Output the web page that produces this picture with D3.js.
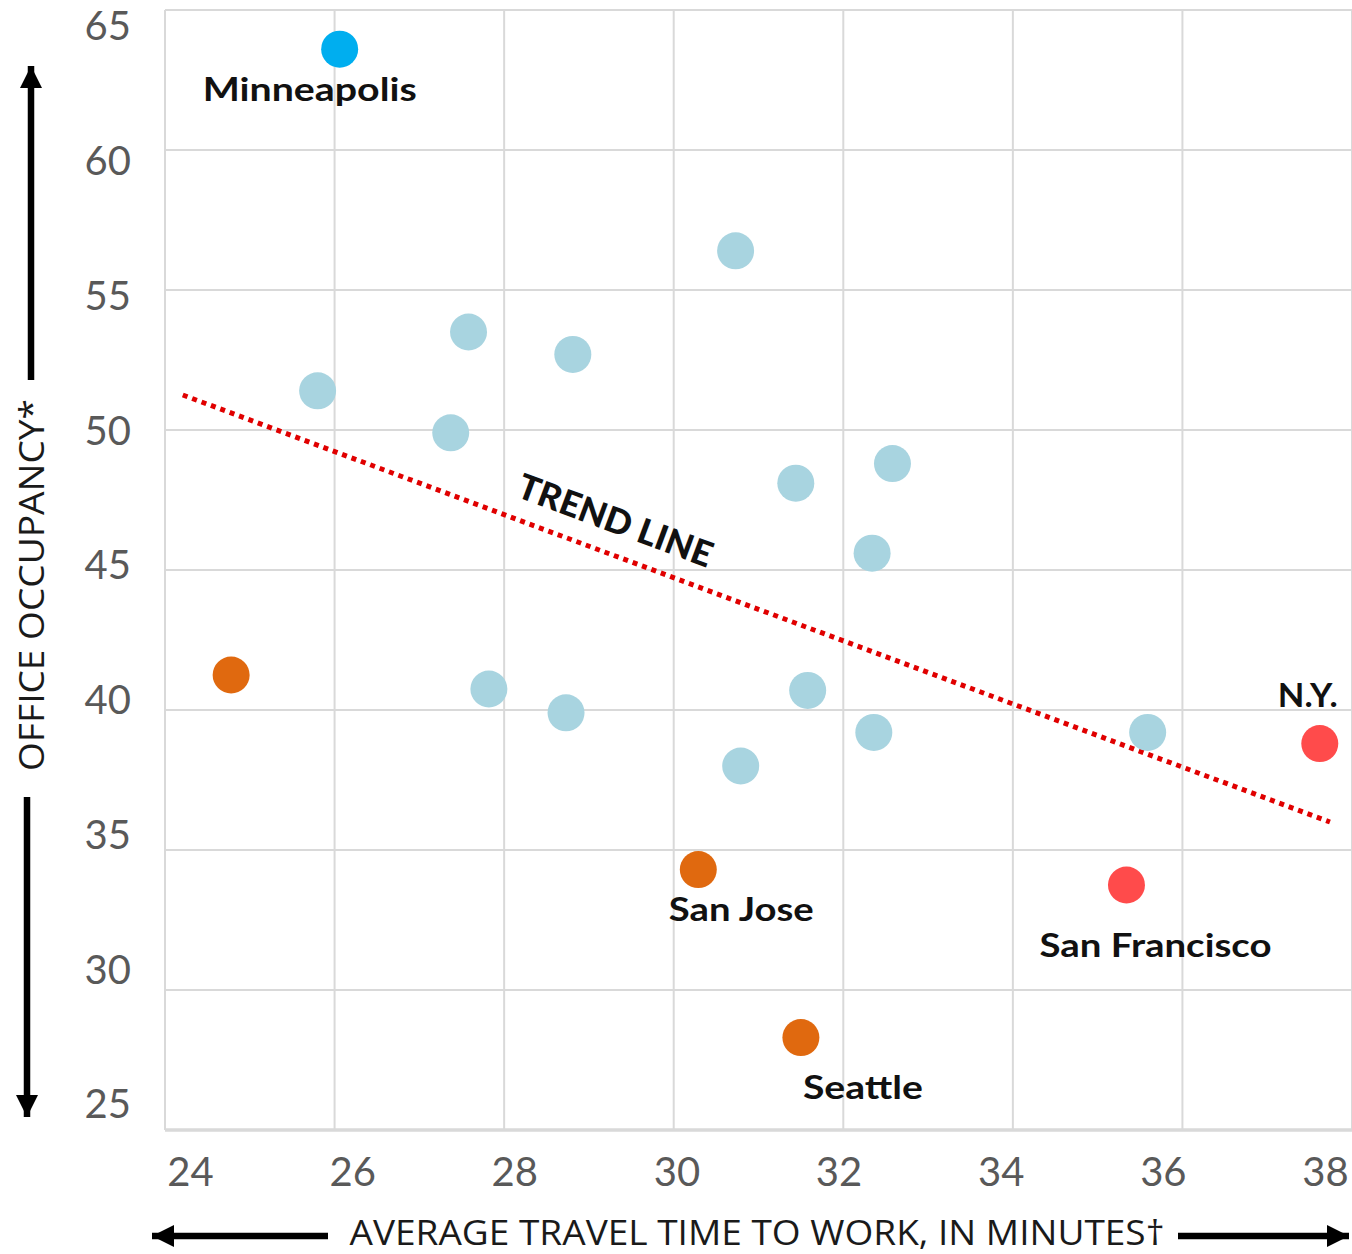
<!DOCTYPE html>
<html><head><meta charset="utf-8">
<script src="https://cdn.jsdelivr.net/npm/d3@7"></script>
<style>body{margin:0;background:#fff}svg{display:block}</style>
</head><body>
<svg id="c" width="1352" height="1254"></svg>
<script>
// ---- data ----
const cities = ["Minneapolis","","","","","","","","","","","","","","","","San Jose","Seattle","N.Y.","San Francisco"];
const travel = [26.06,25.80,27.58,27.37,28.81,30.73,31.44,32.58,32.34,27.82,28.73,31.58,32.36,30.79,35.59,24.78,30.29,31.50,37.62,35.34];
const occupancy = [63.6,51.4,53.5,49.9,52.7,56.4,48.1,48.8,45.6,40.75,39.9,40.7,39.2,38.0,39.2,41.25,34.3,28.3,38.8,33.75];
const group = ["hi","mid","mid","mid","mid","mid","mid","mid","mid","mid","mid","mid","mid","mid","mid","west","west","west","ne","ne"];
const xTicks = [24,26,28,30,32,34,36,38];
const yTicks = [25,30,35,40,45,50,55,60,65];
const trendX = [24.21,37.74];
const trendY = [51.25,36.0];

const colors = {hi:"#00aeef", mid:"#a8d4e0", west:"#e0690f", ne:"#ff4b4b"};

const svg = d3.select("#c");
const L=165,R=1352,T=10,B=1130;
const x = d3.scaleLinear().domain([24,38]).range([L,R]);
const y = d3.scaleLinear().domain([25,65]).range([B,T]);
// label scales (tick labels sit slightly off the gridlines in the original)
const xl = d3.scaleLinear().domain([24,38]).range([190,1325]);
const yl = d3.scaleLinear().domain([25,65]).range([1105,27]);

// gridlines
const g = svg.append("g");
g.selectAll(".vg").data(xTicks).join("line")
  .attr("x1",d=>x(d)).attr("x2",d=>x(d)).attr("y1",T).attr("y2",B)
  .attr("stroke","#d9d9d9").attr("stroke-width",2);
g.selectAll(".hg").data(yTicks).join("line")
  .attr("x1",L).attr("x2",R).attr("y1",d=>y(d)).attr("y2",d=>y(d))
  .attr("stroke","#d9d9d9").attr("stroke-width",d=>d===25?3.5:2);

// tick labels via axes
const xa = svg.append("g").attr("transform","translate(0,1172)")
  .call(d3.axisBottom(xl).tickValues(xTicks).tickSize(0).tickPadding(0));
xa.select(".domain").remove();
xa.selectAll("text").attr("dy","0.35em").attr("font-family","Lato, 'Open Sans', sans-serif")
  .attr("font-size",40).attr("fill","#595959");
const ya = svg.append("g").attr("transform","translate(131,0)")
  .call(d3.axisLeft(yl).tickValues(yTicks).tickSize(0).tickPadding(0));
ya.select(".domain").remove();
ya.selectAll("text").attr("font-family","Lato, 'Open Sans', sans-serif")
  .attr("font-size",40).attr("fill","#595959");

// trend line
svg.append("line")
  .attr("x1",x(trendX[0])).attr("y1",y(trendY[0]))
  .attr("x2",x(trendX[1])).attr("y2",y(trendY[1]))
  .attr("stroke","#e00000").attr("stroke-width",5).attr("stroke-dasharray","5,5");
const ang = Math.atan2(y(trendY[1])-y(trendY[0]), x(trendX[1])-x(trendX[0]))*180/Math.PI;
svg.append("text").attr("transform",`translate(611,532) rotate(${ang})`)
  .attr("text-anchor","middle").attr("font-family","Lato, sans-serif").attr("font-weight",900)
  .attr("font-size",35).attr("fill","#111")
  .attr("textLength",205).attr("lengthAdjust","spacingAndGlyphs").text("TREND LINE");

// points
svg.selectAll(".pt").data(travel.map((t,i)=>({t,o:occupancy[i],g:group[i]}))).join("circle")
  .attr("cx",d=>x(d.t)).attr("cy",d=>y(d.o)).attr("r",18.5).attr("fill",d=>colors[d.g]);

// point labels
const lab = [
  {n:0, dx:-30, dy:52, w:214},
  {n:16, dx:43, dy:51, w:145},
  {n:17, dx:62, dy:61, w:120},
  {n:18, dx:-12, dy:-37, w:60},
  {n:19, dx:29, dy:72, w:232}
];
svg.selectAll(".lb").data(lab).join("text")
  .attr("x",d=>x(travel[d.n])+d.dx).attr("y",d=>y(occupancy[d.n])+d.dy)
  .attr("text-anchor","middle").attr("font-family","Lato, sans-serif").attr("font-weight",700)
  .attr("font-size",33).attr("fill","#111")
  .attr("textLength",d=>d.w).attr("lengthAdjust","spacingAndGlyphs")
  .text(d=>cities[d.n]);

// axis titles
svg.append("text").attr("x",757).attr("y",1245).attr("text-anchor","middle")
  .attr("font-family","'Open Sans', sans-serif").attr("font-size",34).attr("fill","#1a1a1a")
  .attr("textLength",815).attr("lengthAdjust","spacingAndGlyphs")
  .text("AVERAGE TRAVEL TIME TO WORK, IN MINUTES†");
svg.append("text").attr("transform","translate(44,585) rotate(-90)").attr("text-anchor","middle")
  .attr("font-family","'Open Sans', sans-serif").attr("font-size",34).attr("fill","#1a1a1a")
  .attr("textLength",372).attr("lengthAdjust","spacingAndGlyphs")
  .text("OFFICE OCCUPANCY*");

// arrows
const defs = svg.append("defs");
defs.append("marker").attr("id","ah").attr("viewBox","0 0 10 10").attr("refX",10).attr("refY",5)
  .attr("markerWidth",3.4).attr("markerHeight",3.4).attr("markerUnits","strokeWidth").attr("orient","auto")
  .append("path").attr("d","M0,0L10,5L0,10Z").attr("fill","#000");
const arrows = [[31,380,31,66],[27,797,27,1117],[328,1236,152,1236],[1178,1236,1349,1236]];
svg.selectAll(".ar").data(arrows).join("line")
  .attr("x1",d=>d[0]).attr("y1",d=>d[1]).attr("x2",d=>d[2]).attr("y2",d=>d[3])
  .attr("stroke","#000").attr("stroke-width",6.5).attr("marker-end","url(#ah)");
</script>
</body></html>
